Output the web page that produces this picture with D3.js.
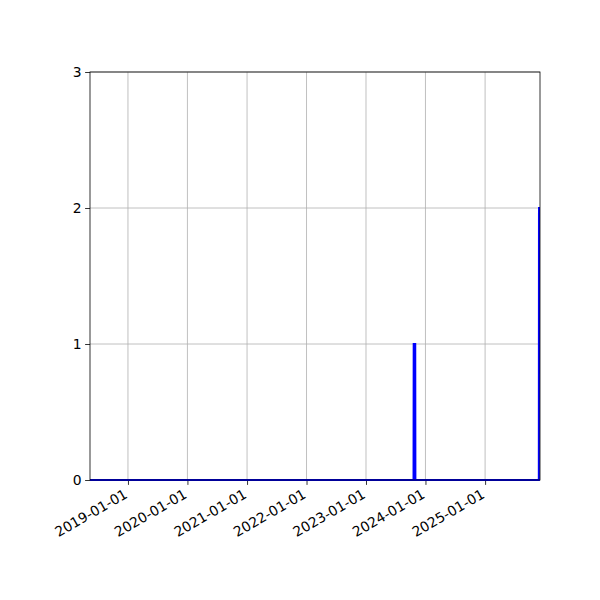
<!DOCTYPE html>
<html>
<head>
<meta charset="utf-8">
<script src="https://cdn.jsdelivr.net/npm/d3@7"></script>
<style>
    body { margin: 0; background: #fff; }
    text { font-family: "DejaVu Sans", sans-serif; font-size: 13.9px; fill: #000; }
</style>
</head>
<body>
<div class="wrapper-svg"></div>
<script>
// series: mostly zeros, two spikes
var dates = ['2018-05-13', '2023-10-20', '2023-10-21', '2023-10-30', '2023-10-31', '2025-11-27', '2025-11-28', '2025-12-04'];
var values = [0, 0, 1, 1, 0, 0, 2, 2];
var xTicks = ['2019-01-01', '2020-01-01', '2021-01-01', '2022-01-01', '2023-01-01', '2024-01-01', '2025-01-01'];
var yTicks = [0, 1, 2, 3];

var parse = d3.utcParse('%Y-%m-%d');
var fmt = d3.utcFormat('%Y-%m-%d');

var mLeft = 90, mRight = 540, mTop = 72, mBottom = 480;

var svg = d3.select('.wrapper-svg')
    .append('svg')
    .attr('width', 600)
    .attr('height', 600);

var x = d3.scaleUtc()
    .domain([parse(dates[0]), parse(dates[dates.length - 1])])
    .range([mLeft, mRight]);

var y = d3.scaleLinear()
    .domain([0, 3])
    .range([mBottom, mTop]);

var points = dates.map(function(d, i) { return {date: parse(d), value: values[i]}; });

// grid
svg.append('g')
    .selectAll('line')
    .data(xTicks)
    .enter().append('line')
    .attr('x1', function(d) { return x(parse(d)); })
    .attr('x2', function(d) { return x(parse(d)); })
    .attr('y1', mTop)
    .attr('y2', mBottom)
    .attr('stroke', '#b0b0b0')
    .attr('stroke-width', 0.8);

svg.append('g')
    .selectAll('line')
    .data(yTicks)
    .enter().append('line')
    .attr('x1', mLeft)
    .attr('x2', mRight)
    .attr('y1', function(d) { return y(d); })
    .attr('y2', function(d) { return y(d); })
    .attr('stroke', '#b0b0b0')
    .attr('stroke-width', 0.8);

// axes
var xAxis = svg.append('g')
    .attr('transform', 'translate(0,' + mBottom + ')')
    .call(d3.axisBottom(x)
        .tickValues(xTicks.map(parse))
        .tickFormat(fmt)
        .tickSize(4.9)
        .tickPadding(3.5));

xAxis.selectAll('.tick text')
    .attr('text-anchor', 'end')
    .attr('dy', null)
    .attr('y', 0)
    .attr('transform', 'translate(0,17) rotate(-30)');

svg.append('g')
    .attr('transform', 'translate(' + mLeft + ',0)')
    .call(d3.axisLeft(y)
        .tickValues(yTicks)
        .tickFormat(d3.format('d'))
        .tickSize(4.9)
        .tickPadding(3.5));

svg.selectAll('.domain').remove();
svg.selectAll('.tick line').attr('stroke', '#000').attr('stroke-width', 0.8);
svg.selectAll('.tick text').style('font-size', '13.9px').style('font-family', '"DejaVu Sans", sans-serif');

// series
svg.append('defs').append('clipPath').attr('id', 'clip')
    .append('rect')
    .attr('x', mLeft).attr('y', mTop)
    .attr('width', mRight - mLeft).attr('height', mBottom - mTop + 1.5);

svg.append('path')
    .datum(points)
    .attr('clip-path', 'url(#clip)')
    .attr('fill', 'none')
    .attr('stroke', '#0000ff')
    .attr('stroke-width', 2.1)
    .attr('d', d3.line()
        .x(function(d) { return x(d.date); })
        .y(function(d) { return y(d.value); }));

// spines on top
svg.append('rect')
    .attr('x', mLeft)
    .attr('y', mTop)
    .attr('width', mRight - mLeft)
    .attr('height', mBottom - mTop)
    .attr('fill', 'none')
    .attr('stroke', '#000')
    .attr('stroke-width', 0.8);
</script>
</body>
</html>
